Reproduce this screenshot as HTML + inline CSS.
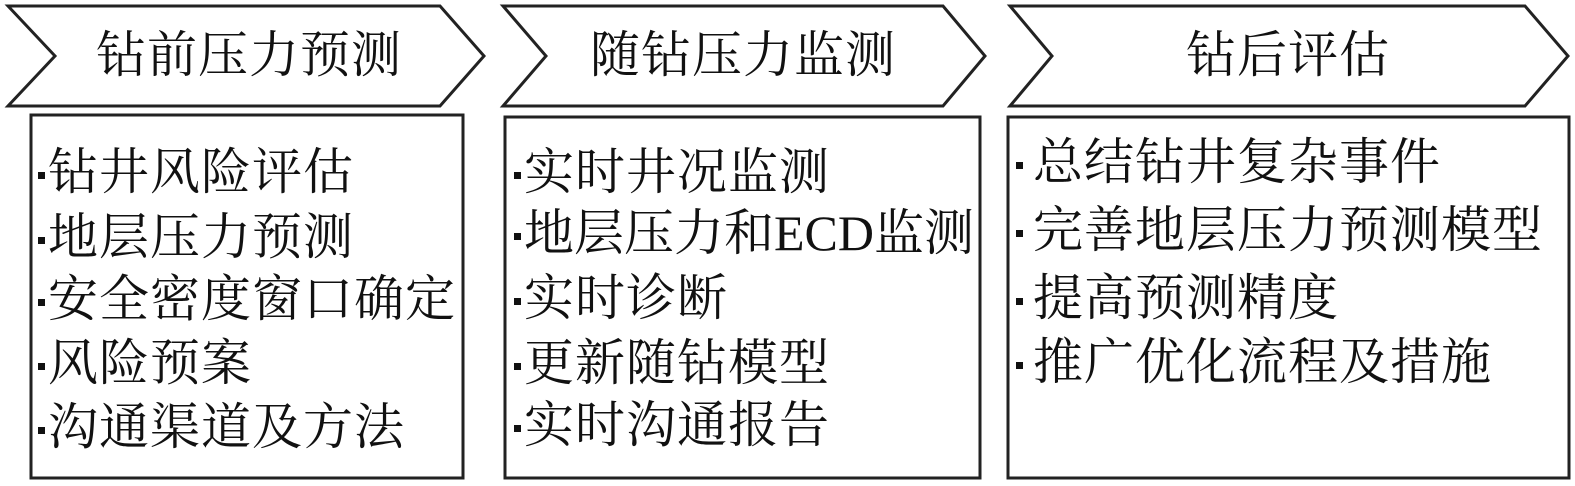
<!DOCTYPE html>
<html><head><meta charset="utf-8"><style>
body{margin:0;width:1575px;height:486px;background:#fff;position:relative;overflow:hidden;font-family:"Liberation Serif","Noto Serif CJK SC",serif;color:#111}
.t{position:absolute;font-size:50px;letter-spacing:1px;line-height:1;white-space:nowrap}
.l{position:absolute;font-size:50px;letter-spacing:1px;line-height:1;white-space:nowrap}
.l b{display:inline-block;width:7px;height:7px;background:#111;vertical-align:middle;margin-right:3px;position:relative;top:-2px}
</style></head><body>
<svg width="1575" height="486" style="position:absolute;left:0;top:0">
<g fill="none" stroke="#222" stroke-width="3">
<polygon points="8,6 440,6 484,56 440,106 8,106 55,56"/>
<polygon points="503,6 943,6 985,56 943,106 503,106 546,56"/>
<polygon points="1010,6 1525,6 1568,56 1525,106 1010,106 1052,56"/>
<rect x="31" y="115" width="432" height="363"/>
<rect x="505" y="117" width="475" height="361"/>
<rect x="1008" y="117" width="561" height="361"/>
</g></svg>
<div class="t" style="left:96px;top:30px">钻前压力预测</div>
<div class="t" style="left:590px;top:30px">随钻压力监测</div>
<div class="t" style="left:1186px;top:30px">钻后评估</div>

<div class="l" style="left:38px;top:147px"><b></b>钻井风险评估</div>
<div class="l" style="left:38px;top:212px"><b></b>地层压力预测</div>
<div class="l" style="left:38px;top:274px"><b></b>安全密度窗口确定</div>
<div class="l" style="left:38px;top:338px"><b></b>风险预案</div>
<div class="l" style="left:38px;top:402px"><b></b>沟通渠道及方法</div>

<div class="l" style="left:514px;top:147px"><b></b>实时井况监测</div>
<div class="l" style="left:514px;top:208px;letter-spacing:0"><b></b>地层压力和ECD监测</div>
<div class="l" style="left:514px;top:273px"><b></b>实时诊断</div>
<div class="l" style="left:514px;top:338px"><b></b>更新随钻模型</div>
<div class="l" style="left:514px;top:400px"><b></b>实时沟通报告</div>

<div class="l" style="left:1016px;top:137px"><b style="margin-right:10px"></b>总结钻井复杂事件</div>
<div class="l" style="left:1016px;top:205px"><b style="margin-right:10px"></b>完善地层压力预测模型</div>
<div class="l" style="left:1016px;top:273px"><b style="margin-right:10px"></b>提高预测精度</div>
<div class="l" style="left:1016px;top:337px"><b style="margin-right:10px"></b>推广优化流程及措施</div>
</body></html>
